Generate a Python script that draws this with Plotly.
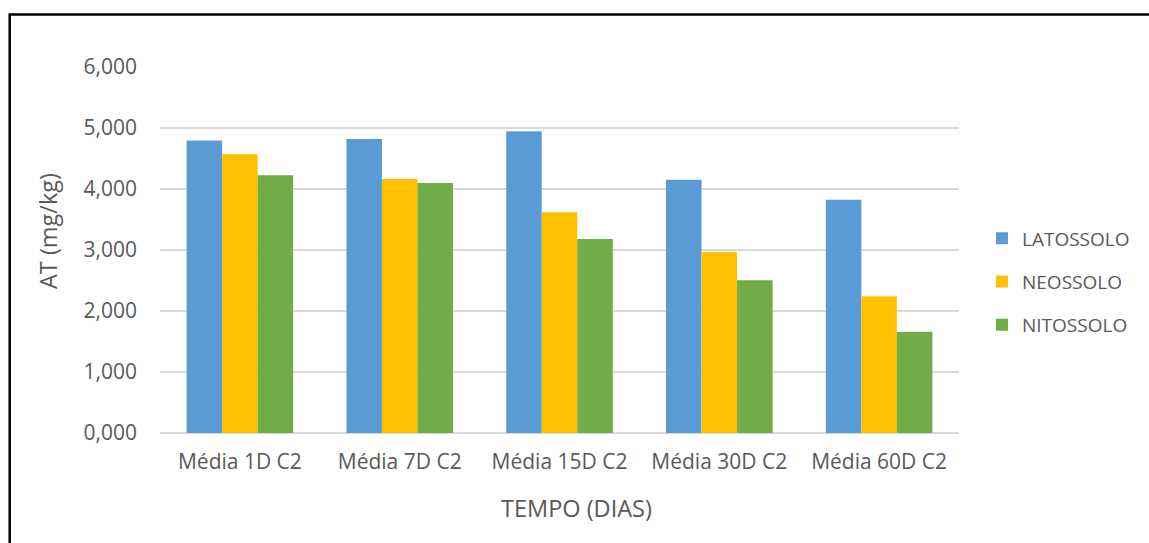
import plotly.graph_objects as go

# Tempo de amostragem (categorias do eixo x)
categorias = ["Média 1D C2", "Média 7D C2", "Média 15D C2", "Média 30D C2", "Média 60D C2"]

# AT (mg/kg) por tipo de solo
latossolo = [4.795, 4.820, 4.948, 4.150, 3.823]
neossolo = [4.571, 4.162, 3.617, 2.967, 2.242]
nitossolo = [4.227, 4.100, 3.180, 2.504, 1.658]

series = [
    ("LATOSSOLO", latossolo, "#5B9BD5"),
    ("NEOSSOLO", neossolo, "#FFC000"),
    ("NITOSSOLO", nitossolo, "#70AD47"),
]

FONT = "Open Sans, Lato, sans-serif"
TXT = "#595959"

# área de plotagem em pixels
PL, PR, PT, PB = 160, 959, 67, 433
PW, PH = PR - PL, PB - PT


def px_x(v):
    return (v - PL) / PW


def px_y(v):
    return (PB - v) / PH


fig = go.Figure()
for nome, valores, cor in series:
    fig.add_trace(go.Bar(
        x=categorias, y=valores, name=nome, legendgroup=nome,
        marker=dict(color=cor, line=dict(width=0)),
    ))

fig.update_layout(
    width=1149, height=543,
    margin=dict(l=PL, r=1149 - PR, t=PT, b=543 - PB, autoexpand=False),
    paper_bgcolor="white", plot_bgcolor="white",
    barmode="group", bargap=0.333, bargroupgap=0,
    separators=",.",
    font=dict(family=FONT, size=21, color=TXT),
    legend=dict(
        x=px_x(982), y=px_y(282), xanchor="left", yanchor="middle",
        font=dict(family=FONT, size=19, color=TXT),
        traceorder="grouped", tracegroupgap=15.5,
        itemwidth=30,
    ),
    xaxis=dict(
        showgrid=False, showline=False, ticks="",
        ticklabelstandoff=14,
        tickfont=dict(size=21, color=TXT),
    ),
    yaxis=dict(
        range=[0, 6], dtick=1, tickformat=".3f",
        showgrid=True, gridcolor="#D9D9D9", gridwidth=1.5,
        zeroline=True, zerolinecolor="#D9D9D9", zerolinewidth=1.5,
        showline=False, ticks="", ticklabelstandoff=22,
        tickfont=dict(size=21, color=TXT),
    ),
    showlegend=True,
)

# Títulos dos eixos
fig.add_annotation(
    text="AT (mg/kg)", xref="paper", yref="paper",
    x=px_x(48), y=px_y(231), xanchor="center", yanchor="middle",
    textangle=-90, showarrow=False,
    font=dict(family=FONT, size=23.5, color=TXT),
)
fig.add_annotation(
    text="TEMPO (DIAS)", xref="paper", yref="paper",
    x=px_x(576), y=px_y(508), xanchor="center", yanchor="middle",
    showarrow=False,
    font=dict(family=FONT, size=23.5, color=TXT),
)

# Moldura externa do gráfico
fig.add_shape(
    type="rect", xref="paper", yref="paper",
    x0=px_x(9.7), x1=px_x(1200),
    y0=px_y(600), y1=px_y(14.5),
    line=dict(color="black", width=2.5), fillcolor="rgba(0,0,0,0)",
    layer="above",
)

fig.write_html("out.html")
